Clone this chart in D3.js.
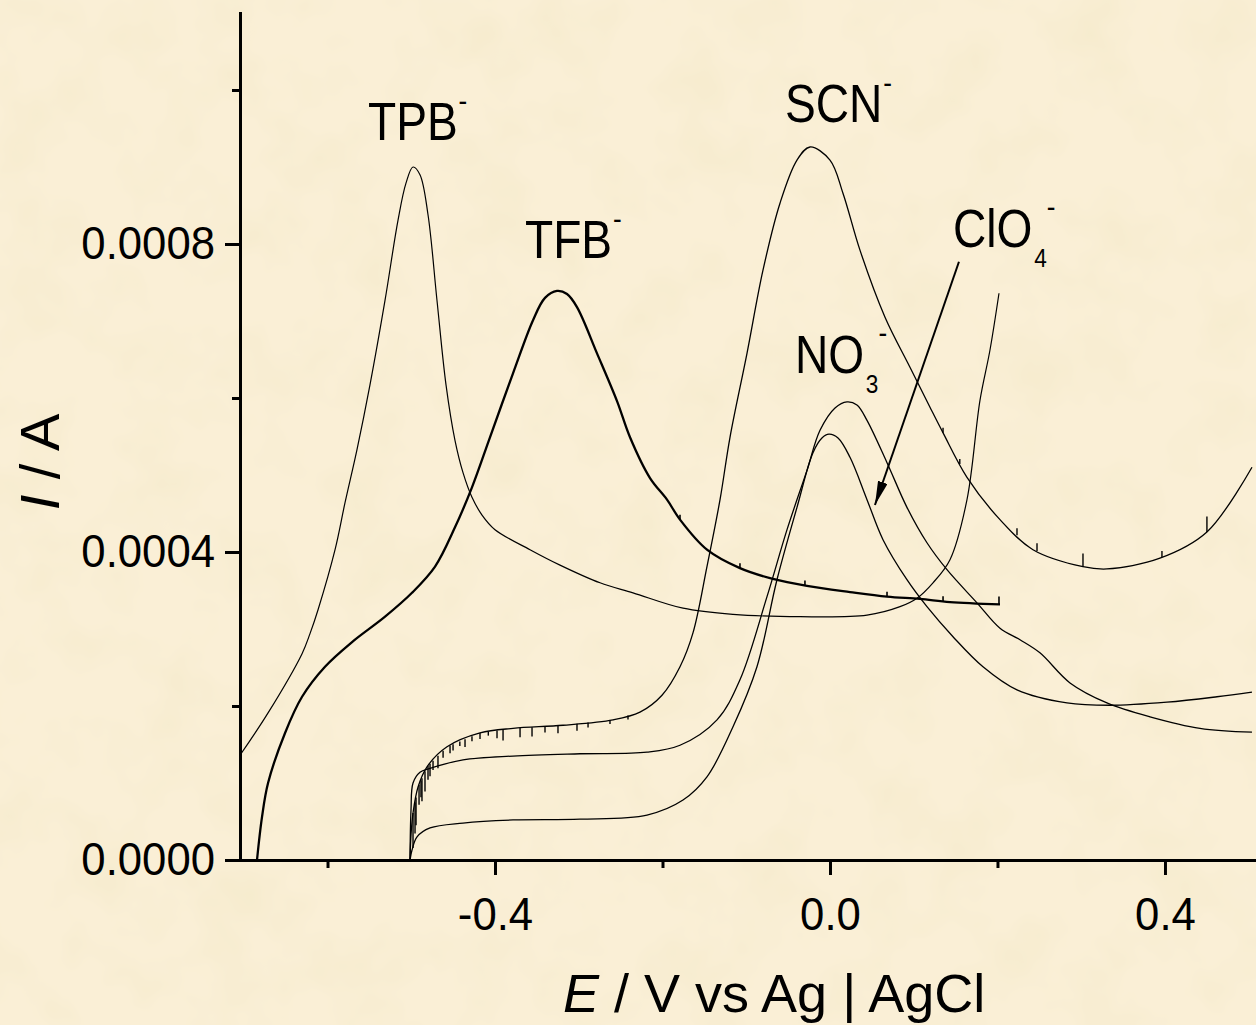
<!DOCTYPE html>
<html>
<head>
<meta charset="utf-8">
<script src="https://cdn.jsdelivr.net/npm/d3@7"></script>
<style>
  body { margin: 0; background: #faefd6; }
  svg { display: block; }
  .axis text { font-family: "Liberation Sans", Arial, sans-serif; fill: #000; }
  .lbl { font-family: "Liberation Sans", Arial, sans-serif; fill: #000; }
</style>
</head>
<body>
<div id="chart"></div>
<script>
// E / V vs Ag|AgCl , I / A
const TPB = [
  [-0.7045, 0.000136], [-0.671, 0.000191], [-0.6304, 0.000268], [-0.6209, 0.000294],
  [-0.6113, 0.000325], [-0.591, 0.000403], [-0.5791, 0.000464], [-0.5648, 0.000533],
  [-0.5493, 0.000617], [-0.5313, 0.000727], [-0.5158, 0.000831], [-0.5063, 0.000879],
  [-0.4979, 0.0009], [-0.4896, 0.00089], [-0.48, 0.000838], [-0.4693, 0.000727],
  [-0.4585, 0.000617], [-0.4478, 0.000545], [-0.4382, 0.000503], [-0.4275, 0.000471],
  [-0.4155, 0.000448], [-0.4, 0.000429], [-0.3582, 0.000403], [-0.3224, 0.000383],
  [-0.2746, 0.00036], [-0.2352, 0.000347], [-0.1755, 0.000327], [-0.1158, 0.000319],
  [-0.0358, 0.000316], [0.0442, 0.000318], [0.0836, 0.000329], [0.1039, 0.00034],
  [0.123, 0.00036], [0.1433, 0.00039], [0.1636, 0.000468], [0.1791, 0.000597],
  [0.191, 0.000662], [0.2018, 0.000736]
];
const TFB = [
  [-0.6842, 0], [-0.6782, 0.000056], [-0.671, 0.0001], [-0.6507, 0.000165],
  [-0.6304, 0.000212], [-0.603, 0.000251], [-0.5707, 0.000283], [-0.5313, 0.000316],
  [-0.4991, 0.000347], [-0.4716, 0.000381], [-0.4478, 0.000432], [-0.4275, 0.000484],
  [-0.406, 0.000549], [-0.3785, 0.000632], [-0.3546, 0.000701], [-0.3403, 0.00073],
  [-0.326, 0.000739], [-0.314, 0.000735], [-0.3021, 0.000718], [-0.2782, 0.000658],
  [-0.2543, 0.000596], [-0.2388, 0.000549], [-0.2149, 0.000496], [-0.1946, 0.000468],
  [-0.1791, 0.000442], [-0.1469, 0.000403], [-0.1075, 0.000379], [-0.0681, 0.000365],
  [-0.0275, 0.000356], [0.0239, 0.000348], [0.0681, 0.000342], [0.1075, 0.000339],
  [0.1433, 0.000335], [0.203, 0.000332]
];
const SCN = [
  [-0.5015, 0], [-0.5003, 0.0000325], [-0.4979, 0.000061], [-0.4919, 0.0000948],
  [-0.4812, 0.000121], [-0.4573, 0.000147], [-0.4179, 0.000165], [-0.3785, 0.000171],
  [-0.3188, 0.000175], [-0.2591, 0.000182], [-0.2269, 0.000192], [-0.2006, 0.000214],
  [-0.1791, 0.000251], [-0.1636, 0.000295], [-0.1469, 0.000381], [-0.1313, 0.000468],
  [-0.1194, 0.000549], [-0.0991, 0.000658], [-0.08, 0.000766], [-0.0597, 0.000853],
  [-0.0394, 0.000909], [-0.0239, 0.000926], [0, 0.000909], [0.0155, 0.000866],
  [0.0358, 0.000792], [0.0657, 0.000705], [0.0955, 0.00064], [0.1194, 0.000588],
  [0.1349, 0.000555], [0.1636, 0.000497], [0.203, 0.000442], [0.2424, 0.000403],
  [0.3021, 0.000381], [0.3307, 0.000378], [0.394, 0.000392], [0.4501, 0.000426],
  [0.5039, 0.00051]
];
const NO3 = [
  [-0.5015, 0], [-0.5003, 0.000065], [-0.4979, 0.0001], [-0.4896, 0.000114],
  [-0.4776, 0.000119], [-0.4382, 0.00013], [-0.3785, 0.000135], [-0.2985, 0.000138],
  [-0.2185, 0.00014], [-0.1791, 0.000149], [-0.1349, 0.000182], [-0.1075, 0.000234],
  [-0.0752, 0.000342], [-0.0513, 0.000429], [-0.0275, 0.000506], [-0.0119, 0.000558],
  [0.006, 0.000587], [0.0203, 0.000595], [0.0322, 0.000591], [0.0442, 0.000571],
  [0.0681, 0.000516], [0.0919, 0.000458], [0.1158, 0.000412], [0.1397, 0.000377],
  [0.1755, 0.000334], [0.203, 0.000301], [0.2269, 0.000286], [0.2507, 0.000269],
  [0.2866, 0.00023], [0.3307, 0.000204], [0.3821, 0.000186], [0.4418, 0.000171],
  [0.5039, 0.000166]
];
const ClO4 = [
  [-0.5015, 0], [-0.4991, 0.000013], [-0.4931, 0.00003], [-0.4776, 0.0000416],
  [-0.4382, 0.000048], [-0.3785, 0.000052], [-0.2985, 0.000053], [-0.2185, 0.0000584],
  [-0.1755, 0.0000779], [-0.1469, 0.000108], [-0.1158, 0.000173], [-0.0872, 0.000251],
  [-0.0633, 0.000364], [-0.0394, 0.000458], [-0.0203, 0.000529], [-0.0096, 0.000548],
  [-0.0012, 0.000553], [0.0096, 0.000548], [0.0239, 0.000523], [0.0442, 0.000468],
  [0.0633, 0.000416], [0.0919, 0.000364], [0.1158, 0.000329], [0.1469, 0.00029],
  [0.1827, 0.000251], [0.2233, 0.000221], [0.283, 0.000204], [0.3343, 0.000201],
  [0.4024, 0.000205], [0.4621, 0.000212], [0.5039, 0.000218]
];

// noise spikes: [E, dI]  (negative = downward)
const scnSpikes = [
  [-0.4979, -0.0000455], [-0.4955, -0.00004], [-0.4943, -0.000036], [-0.4907, -0.000026],
  [-0.4884, -0.000022], [-0.4872, -0.00003], [-0.4836, -0.000026], [-0.4800, -0.000018],
  [-0.4776, -0.000016], [-0.4740, -0.000012], [-0.4681, -0.000016], [-0.4620, -0.000009],
  [-0.4537, -0.00001], [-0.4501, -0.000008], [-0.4420, -0.000006], [-0.4358, -0.00001],
  [-0.4275, -0.0000065], [-0.4179, -0.000008], [-0.4080, -0.000005], [-0.3976, -0.00001],
  [-0.3904, -0.000014], [-0.3701, -0.000012], [-0.3558, -0.000012], [-0.3403, -0.000008],
  [-0.3248, -0.00001], [-0.3021, -0.000009], [-0.2889, -0.0000065], [-0.2627, -0.000005],
  [-0.2412, -0.000005],
  [0.135, 0.0000065], [0.155, 0.0000065], [0.2233, 0.000009], [0.2472, 0.00001],
  [0.3021, 0.000017], [0.3964, 0.000008], [0.4501, 0.00002]
];
const tfbSpikes = [
  [-0.1791, 0.0000065], [-0.1075, 0.0000065], [-0.0299, 0.0000065],
  [0.0681, 0.0000065], [0.135, 0.0000065], [0.2018, 0.00001]
];

const xTicks = [-0.4, 0.0, 0.4];
const xMinor = [-0.6, -0.2, 0.2];
const yTicks = [0.0000, 0.0004, 0.0008];
const yMinor = [0.0002, 0.0006, 0.0010];

const W = 1256, H = 1025;
const textScale = 0.87;
const tickScale = 0.95;

const svg = d3.select('#chart').append('svg').attr('width', W).attr('height', H);

// paper-like background
const defs = svg.append('defs');
const f = defs.append('filter').attr('id', 'paper').attr('x', 0).attr('y', 0)
  .attr('width', '100%').attr('height', '100%');
f.append('feTurbulence').attr('type', 'fractalNoise').attr('baseFrequency', 0.015)
  .attr('numOctaves', 3).attr('seed', 7);
f.append('feColorMatrix').attr('type', 'matrix')
  .attr('values', '0 0 0 0 0.86  0 0 0 0 0.78  0 0 0 0 0.52  0.7 0 0 0 -0.3');
svg.append('rect').attr('width', W).attr('height', H).attr('fill', '#faefd6');
svg.append('rect').attr('width', W).attr('height', H).attr('filter', 'url(#paper)');

const x = d3.scaleLinear().domain([-0.7045, 0.5087]).range([240, 1256]);
const y = d3.scaleLinear().domain([0, 0.0011]).range([860, 13]);

defs.append('clipPath').attr('id', 'plot').append('rect')
  .attr('x', 240).attr('y', 0).attr('width', W - 240).attr('height', 860);

const line = d3.line().x(d => x(d[0])).y(d => y(d[1])).curve(d3.curveCatmullRom.alpha(0.5));

const plot = svg.append('g').attr('clip-path', 'url(#plot)');
const series = [
  { data: TPB, width: 1.2 },
  { data: TFB, width: 2.3 },
  { data: SCN, width: 1.3 },
  { data: NO3, width: 1.3 },
  { data: ClO4, width: 1.3 }
];
plot.selectAll('path.curve').data(series).enter().append('path')
  .attr('class', 'curve')
  .attr('d', s => line(s.data))
  .attr('fill', 'none').attr('stroke', '#000')
  .attr('stroke-width', s => s.width);

function valueAt(data, e) {
  const i = d3.bisector(d => d[0]).left(data, e);
  const a = data[Math.max(0, i - 1)], b = data[Math.min(data.length - 1, i)];
  if (a[0] === b[0]) return a[1];
  return a[1] + (b[1] - a[1]) * (e - a[0]) / (b[0] - a[0]);
}
function drawSpikes(spikes, data, w) {
  plot.append('g').selectAll('line').data(spikes).enter().append('line')
    .attr('x1', d => x(d[0])).attr('x2', d => x(d[0]))
    .attr('y1', d => y(valueAt(data, d[0])))
    .attr('y2', d => y(valueAt(data, d[0]) + d[1]))
    .attr('stroke', '#000').attr('stroke-width', w);
}
drawSpikes(scnSpikes, SCN, 1.4);
drawSpikes(tfbSpikes, TFB, 1.6);

// axes
function styleAxis(g) {
  g.select('.domain').attr('stroke-width', 3).attr('stroke-linecap', 'square');
  g.selectAll('.tick line').attr('stroke-width', 3);
}
const xAxis = svg.append('g').attr('class', 'axis').attr('transform', 'translate(0,860)')
  .call(d3.axisBottom(x).tickValues(xTicks).tickSize(15).tickSizeOuter(0).tickPadding(22)
    .tickFormat(d => d.toFixed(1)));
styleAxis(xAxis);
xAxis.selectAll('text').attr('font-size', 46).attr('transform', `scale(${tickScale},1)`);

const xMin = svg.append('g').attr('class', 'axis').attr('transform', 'translate(0,860)')
  .call(d3.axisBottom(x).tickValues(xMinor).tickSize(8).tickFormat(''));
xMin.select('.domain').remove();
xMin.selectAll('.tick line').attr('stroke-width', 3);

const yAxis = svg.append('g').attr('class', 'axis').attr('transform', 'translate(240,0)')
  .call(d3.axisLeft(y).tickValues(yTicks).tickSize(15).tickSizeOuter(0).tickPadding(10)
    .tickFormat(d => d.toFixed(4)));
styleAxis(yAxis);
yAxis.selectAll('text').attr('font-size', 46)
  .attr('x', -25 / tickScale).attr('transform', `scale(${tickScale},1)`);

const yMin = svg.append('g').attr('class', 'axis').attr('transform', 'translate(240,0)')
  .call(d3.axisLeft(y).tickValues(yMinor).tickSize(8).tickFormat(''));
yMin.select('.domain').remove();
yMin.selectAll('.tick line').attr('stroke-width', 3);

// axis titles
const xt = svg.append('text').attr('class', 'lbl').attr('font-size', 54)
  .attr('transform', 'translate(563,1012)');
xt.append('tspan').attr('font-style', 'italic').text('E');
xt.append('tspan').text(' / V vs Ag | AgCl');

const yt = svg.append('text').attr('class', 'lbl').attr('font-size', 56)
  .attr('text-anchor', 'middle')
  .attr('transform', 'translate(59,462) rotate(-90)');
yt.append('tspan').attr('font-style', 'italic').text('I');
yt.append('tspan').text(' / A');

// peak labels: [main, sub, E, I]
const peakLabels = [
  ['TPB', '', -0.5516, 0.000935],
  ['TFB', '', -0.3642, 0.000782],
  ['SCN', '', -0.0537, 0.000958],
  ['ClO', '4', 0.1469, 0.000796],
  ['NO', '3', -0.0418, 0.000632]
];
peakLabels.forEach(([main, sub, e, i]) => {
  const t = svg.append('text').attr('class', 'lbl').attr('font-size', 53)
    .attr('transform', `translate(${x(e)},${y(i)}) scale(${textScale},1)`);
  t.append('tspan').text(main);
  if (sub) {
    t.append('tspan').attr('font-size', 26).attr('dy', 20).attr('dx', 2).text(sub);
    t.append('tspan').attr('font-size', 30).attr('dy', -50).text('-');
  } else {
    t.append('tspan').attr('font-size', 30).attr('dy', -29).attr('dx', 1).text('-');
  }
});

// arrow pointing at the ClO4- curve
defs.append('marker').attr('id', 'head').attr('viewBox', '0 0 24 10')
  .attr('refX', 24).attr('refY', 5).attr('markerWidth', 24).attr('markerHeight', 10)
  .attr('markerUnits', 'userSpaceOnUse').attr('orient', 'auto')
  .append('path').attr('d', 'M0,0 L24,5 L0,10 Z').attr('fill', '#000');
const arrow = [[0.154, 0.000777], [0.0537, 0.000461]];
svg.append('path').attr('d', d3.line().x(d => x(d[0])).y(d => y(d[1]))(arrow))
  .attr('stroke', '#000').attr('stroke-width', 2).attr('fill', 'none')
  .attr('marker-end', 'url(#head)');
</script>
</body>
</html>
